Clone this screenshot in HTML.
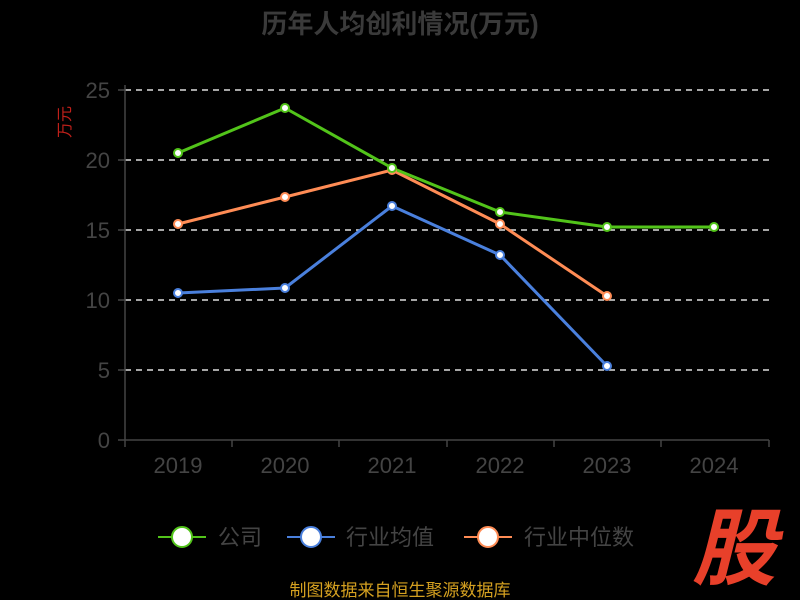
<!DOCTYPE html>
<html><head><meta charset="utf-8"><style>
html,body{margin:0;padding:0;background:#000;}
svg{display:block;font-family:"Liberation Sans","Noto Sans CJK SC",sans-serif;}
</style></head><body>
<svg width="800" height="600" viewBox="0 0 800 600" xmlns="http://www.w3.org/2000/svg">
<rect width="800" height="600" fill="#000"/>
<text x="400" y="33" text-anchor="middle" font-size="26" font-weight="bold" fill="#3a3a3a">历年人均创利情况(万元)</text>
<text transform="translate(70,122) rotate(-90)" text-anchor="middle" font-size="16" fill="#c0201a">万元</text>
<g stroke="#ddd" stroke-width="1.5" stroke-dasharray="6,5">
<line x1="125" y1="90" x2="769" y2="90"/><line x1="125" y1="160" x2="769" y2="160"/>
<line x1="125" y1="230" x2="769" y2="230"/><line x1="125" y1="300" x2="769" y2="300"/>
<line x1="125" y1="370" x2="769" y2="370"/>
</g>
<g stroke="#444" stroke-width="1.5">
<line x1="125" y1="85" x2="125" y2="440"/><line x1="125" y1="440" x2="769" y2="440"/>
<line x1="118" y1="90" x2="125" y2="90"/><line x1="118" y1="160" x2="125" y2="160"/><line x1="118" y1="230" x2="125" y2="230"/><line x1="118" y1="300" x2="125" y2="300"/><line x1="118" y1="370" x2="125" y2="370"/><line x1="118" y1="440" x2="125" y2="440"/>
<line x1="125" y1="440" x2="125" y2="447"/><line x1="232" y1="440" x2="232" y2="447"/><line x1="339" y1="440" x2="339" y2="447"/><line x1="447" y1="440" x2="447" y2="447"/><line x1="554" y1="440" x2="554" y2="447"/><line x1="661" y1="440" x2="661" y2="447"/><line x1="769" y1="440" x2="769" y2="447"/>
</g>
<g font-size="22" fill="#444" text-anchor="end">
<text x="110" y="98">25</text><text x="110" y="168">20</text><text x="110" y="238">15</text><text x="110" y="308">10</text><text x="110" y="378">5</text><text x="110" y="448">0</text>
</g>
<g font-size="22" fill="#444" text-anchor="middle">
<text x="178" y="473">2019</text><text x="285" y="473">2020</text><text x="392" y="473">2021</text><text x="500" y="473">2022</text><text x="607" y="473">2023</text><text x="714" y="473">2024</text>
</g>
<g fill="none" stroke-width="3" stroke-linejoin="round">
<polyline stroke="#4a80dd" points="178,293 285,288 392,206 500,255 607,366"/>
<polyline stroke="#ff8c55" points="178,224 285,197 392,170 500,224 607,296"/>
<polyline stroke="#52c41a" points="178,153 285,108 392,168 500,212 607,227 714,227"/>
</g>
<g fill="#fff" stroke-width="2">
<g stroke="#4a80dd"><circle cx="178" cy="293" r="4"/><circle cx="285" cy="288" r="4"/><circle cx="392" cy="206" r="4"/><circle cx="500" cy="255" r="4"/><circle cx="607" cy="366" r="4"/></g>
<g stroke="#ff8c55"><circle cx="178" cy="224" r="4"/><circle cx="285" cy="197" r="4"/><circle cx="392" cy="170" r="4"/><circle cx="500" cy="224" r="4"/><circle cx="607" cy="296" r="4"/></g>
<g stroke="#52c41a"><circle cx="178" cy="153" r="4"/><circle cx="285" cy="108" r="4"/><circle cx="392" cy="168" r="4"/><circle cx="500" cy="212" r="4"/><circle cx="607" cy="227" r="4"/><circle cx="714" cy="227" r="4"/></g>
</g>
<g stroke-width="2">
<line x1="158" y1="537" x2="206" y2="537" stroke="#52c41a"/><circle cx="182" cy="537" r="10" fill="#fff" stroke="#52c41a"/>
<line x1="287" y1="537" x2="335" y2="537" stroke="#4a80dd"/><circle cx="311" cy="537" r="10" fill="#fff" stroke="#4a80dd"/>
<line x1="464" y1="537" x2="512" y2="537" stroke="#ff8c55"/><circle cx="488" cy="537" r="10" fill="#fff" stroke="#ff8c55"/>
</g>
<g font-size="22" fill="#444">
<text x="218" y="545">公司</text><text x="346" y="545">行业均值</text><text x="524" y="545">行业中位数</text>
</g>
<text x="400" y="596" text-anchor="middle" font-size="17" fill="#d4a020">制图数据来自恒生聚源数据库</text>
<text x="734" y="578" text-anchor="middle" font-size="84" font-weight="bold" font-style="italic" fill="#e8402a">股</text>
</svg>
</body></html>
